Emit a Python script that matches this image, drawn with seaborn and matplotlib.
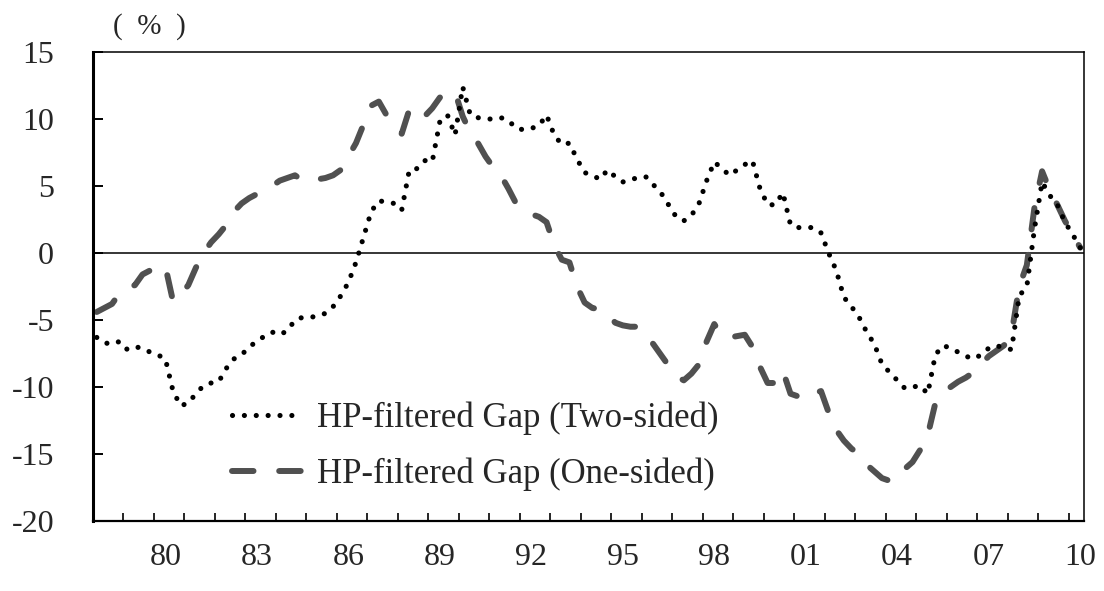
import pandas as pd
import matplotlib
matplotlib.use("Agg")
import matplotlib.pyplot as plt
import seaborn as sns

# quarterly categories, 1977Q4 .. 2010Q1
quarters = pd.period_range("1977Q4", "2010Q1", freq="Q")

two_sided = [
    -6.3, -6.7, -6.8, -6.6, -7.2, -7.0, -7.1, -7.4, -7.6, -7.9,
    -10.3, -11.4, -11.2, -10.5, -9.9, -9.7, -9.6, -8.6, -7.9, -7.6,
    -7.0, -6.6, -6.2, -5.9, -6.1, -5.8, -5.0, -4.8, -4.8, -4.7,
    -4.5, -4.0, -3.2, -2.2, -0.7, 1.2, 3.1, 3.9, 3.8, 3.7,
    3.2, 6.2, 6.3, 6.9, 6.8, 9.8, 10.3, 8.8, 12.4, 10.3,
    10.1, 10.0, 10.0, 10.1, 9.9, 9.3, 9.2, 9.3, 9.5, 10.3,
    8.8, 8.1, 8.2, 7.0, 6.0, 5.8, 5.5, 6.2, 5.7, 5.3,
    5.5, 5.6, 5.7, 5.1, 4.5, 3.6, 2.7, 2.4, 2.8, 3.7,
    5.4, 6.8, 6.3, 5.8, 6.2, 6.6, 6.9, 4.8, 3.6, 3.6,
    4.5, 2.1, 1.9, 1.9, 1.9, 1.5, 0.0, -1.3, -3.3, -4.0,
    -4.8, -5.9, -6.8, -8.3, -8.9, -9.5, -10.1, -10.0, -9.9, -10.5,
    -7.6, -6.9, -7.1, -7.4, -7.7, -7.9, -7.6, -7.1, -6.9, -7.1,
    -7.2, -3.2, -2.5, 1.8, 5.3, 4.3, 3.6, 2.3, 1.4, 0.4,
]

one_sided = [
    -4.4, -4.1, -3.8, -3.0, -2.6, -2.4, -1.6, -1.3, -1.1, -1.0,
    -3.6, -3.1, -2.4, -1.1, 0.0, 0.8, 1.4, 2.1, 3.1, 3.7,
    4.1, 4.4, 4.8, 5.0, 5.4, 5.6, 5.8, 5.4, 5.4, 5.5,
    5.6, 5.8, 6.2, 7.2, 8.2, 9.6, 11.0, 11.3, 10.3, 9.5,
    8.9, 10.7, 10.8, 10.2, 10.8, 11.6, 11.9, 12.0, 10.2, 9.0,
    8.2, 7.2, 6.4, 5.8, 4.8, 3.7, 3.2, 2.9, 2.7, 2.3,
    0.6, -0.5, -0.7, -2.5, -3.7, -4.1, -4.2, -4.5, -5.2, -5.4,
    -5.5, -5.5, -6.1, -6.8, -7.6, -8.4, -9.2, -9.5, -9.0, -8.3,
    -6.6, -5.3, -6.2, -6.3, -6.2, -6.1, -7.0, -8.5, -9.7, -9.7,
    -8.8, -10.5, -10.7, -10.9, -10.5, -10.3, -11.9, -13.2, -14.0, -14.6,
    -15.0, -15.8, -16.3, -16.8, -17.0, -16.2, -16.1, -15.6, -14.7, -13.6,
    -11.2, -10.3, -10.0, -9.6, -9.3, -8.9, -8.3, -7.7, -7.3, -6.9,
    -6.0, -2.5, -0.9, 3.4, 6.1, 4.7, 3.6, 2.4, 1.4, 0.4,
]

year_labels = ["80", "83", "86", "89", "92", "95", "98", "01", "04", "07", "10"]
label_years = [1980, 1983, 1986, 1989, 1992, 1995, 1998, 2001, 2004, 2007, 2010]

df = pd.DataFrame({
    "t": quarters.year + (quarters.quarter - 1) / 4,
    "two": two_sided,
    "one": one_sided,
})

sns.set_theme(style="white")
plt.rcParams["font.family"] = ["Liberation Serif", "DejaVu Serif"]
plt.rcParams["axes.unicode_minus"] = False

fig = plt.figure(figsize=(11.04, 5.91), dpi=100)
ax = fig.add_axes([0.0842, 0.1184, 0.8977, 0.7936])

ax.axhline(0, color="black", linewidth=1.1, zorder=1)

sns.lineplot(data=df, x="t", y="two", ax=ax, color="black", linewidth=3.7,
             label="HP-filtered Gap (Two-sided)", zorder=3)
sns.lineplot(data=df, x="t", y="one", ax=ax, color="#505050", linewidth=4.3,
             label="HP-filtered Gap (One-sided)", zorder=2)

l_two, l_one = ax.get_lines()[1], ax.get_lines()[2]
l_two.set_linestyle((0, (0.01, 2.3)))
l_two.set_dash_capstyle("round")
l_one.set_linestyle((0, (3.6, 4.3)))
l_one.set_dash_capstyle("round")

x0 = df["t"].iloc[0] - 0.125
x1 = df["t"].iloc[-1] + 0.125
ax.set_xlim(x0, x1)
ax.set_ylim(-20, 15)
ax.set_yticks(range(-20, 16, 5))
ax.set_xticks(label_years)
ax.set_xticklabels(year_labels)
ax.set_xticks([x0 + k for k in range(1, 33)], minor=True)
ax.set_xlabel("")
ax.set_ylabel("")

ax.tick_params(axis="x", which="major", length=0, pad=16, labelsize=23)
ax.tick_params(axis="x", which="minor", direction="in", length=5.5, width=1.2,
               bottom=True, color="black")
ax.tick_params(axis="y", direction="in", length=7, width=1.4, pad=28,
               labelsize=23, left=True, color="black")

ax.spines["left"].set_linewidth(2.2)
ax.spines["bottom"].set_linewidth(1.6)
for side in ["top", "right"]:
    ax.spines[side].set_linewidth(1.1)
for s in ax.spines.values():
    s.set_color("black")

leg = ax.legend(loc="upper left", bbox_to_anchor=(0.14, 0.255), frameon=False,
                fontsize=25, handlelength=2.0, handletextpad=0.45,
                labelspacing=0.65, borderpad=0, borderaxespad=0)

fig.text(0.135, 0.955, "(  %  )", fontsize=21, ha="center", va="center")

fig.savefig("out.png", dpi=100)
